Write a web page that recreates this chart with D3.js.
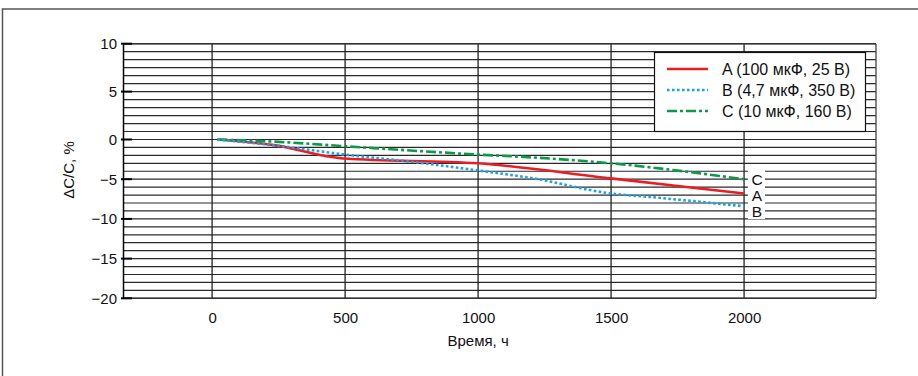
<!DOCTYPE html>
<html><head><meta charset="utf-8">
<script src="https://cdn.jsdelivr.net/npm/d3@7"></script>
<style>
html,body{margin:0;padding:0;background:#fff;}
svg{display:block;font-family:"Liberation Sans",Arial,sans-serif;}
</style></head>
<body>
<svg id="chart" width="918" height="376"></svg>
<script>
// ---- data ----
const seriesNames = ["A", "B", "C"];
const legendLabels = ["A (100 мкФ, 25 В)", "B (4,7 мкФ, 350 В)", "C (10 мкФ, 160 В)"];
const hoursA = [20, 250, 450, 500, 1000, 1500, 2000];
const valuesA = [0, -0.8, -2.2, -2.4, -3.0, -4.9, -6.8];
const hoursB = [20, 250, 500, 750, 1000, 1200, 1500, 1650, 1850, 2000];
const valuesB = [0, -0.8, -1.9, -2.8, -3.9, -4.85, -6.8, -7.25, -7.9, -8.4];
const hoursC = [20, 250, 500, 1000, 1200, 1500, 2000];
const valuesC = [0, -0.3, -0.85, -1.9, -2.25, -3.0, -5.0];
const xTicks = [0, 500, 1000, 1500, 2000];
const yTicks = [10, 5, 0, -5, -10, -15, -20];
const xTitle = "Время, ч";
const yTitle = "ΔC/C, %";

// ---- layout ----
const svg = d3.select("#chart");
const L = 123, R = 876, T = 43.7, B = 298.3;
const x = d3.scaleLinear().domain([-335, 2496]).range([L, R]);
const y = d3.scaleLinear().domain([-20, 0, 10]).range([B, 139.5, T]);

// outer frame
svg.append("rect").attr("x", 2.5).attr("y", 9).attr("width", 1000).attr("height", 1000)
  .attr("fill", "none").attr("stroke", "#555").attr("stroke-width", 1.5);

// horizontal grid (lower part 1 unit, upper part 10/12 unit)
const gridVals = d3.range(-20, 0, 1).concat(d3.range(0, 13).map(i => i * 10 / 12));
svg.append("g").selectAll("line").data(gridVals).join("line")
  .attr("x1", L).attr("x2", R).attr("y1", d => y(d)).attr("y2", d => y(d))
  .attr("stroke", "#2a2a2a").attr("stroke-width", 1.2);

// vertical grid
svg.append("g").selectAll("line").data(xTicks).join("line")
  .attr("x1", d => x(d)).attr("x2", d => x(d)).attr("y1", T).attr("y2", B)
  .attr("stroke", "#222").attr("stroke-width", 1.3);

// plot borders
svg.append("line").attr("x1", R).attr("x2", R).attr("y1", T).attr("y2", B).attr("stroke", "#444").attr("stroke-width", 1.3);
svg.append("line").attr("x1", L).attr("x2", R).attr("y1", T).attr("y2", T).attr("stroke", "#333").attr("stroke-width", 1.6);
svg.append("line").attr("x1", L).attr("x2", R).attr("y1", B).attr("y2", B).attr("stroke", "#333").attr("stroke-width", 1.6);

// y axis
const yAxis = d3.axisLeft(y).tickValues(yTicks).tickSize(0).tickPadding(6)
  .tickFormat(d => d < 0 ? "\u2212" + Math.abs(d) : String(d));
const gy = svg.append("g").attr("transform", `translate(${L},0)`).call(yAxis);
gy.select(".domain").attr("stroke", "#000").attr("stroke-width", 1.5);
gy.selectAll("text").attr("font-size", 15).attr("fill", "#111").attr("font-family", "Liberation Sans, Arial, sans-serif");
svg.append("g").selectAll("line").data(yTicks).join("line")
  .attr("x1", L - 2).attr("x2", L + 9).attr("y1", d => y(d)).attr("y2", d => y(d))
  .attr("stroke", "#000").attr("stroke-width", 2);

// x axis labels
const xAxis = d3.axisBottom(x).tickValues(xTicks).tickSize(0).tickPadding(14).tickFormat(d => String(d));
const gx = svg.append("g").attr("transform", `translate(0,${B})`).call(xAxis);
gx.select(".domain").remove();
gx.selectAll("text").attr("font-size", 15).attr("fill", "#111").attr("font-family", "Liberation Sans, Arial, sans-serif");

// titles
svg.append("text").attr("x", x(1000)).attr("y", 346).attr("text-anchor", "middle")
  .attr("font-size", 15).attr("fill", "#111").text(xTitle);
svg.append("text").attr("transform", "translate(74,170) rotate(-90)").attr("text-anchor", "middle")
  .attr("font-size", 15).attr("fill", "#111").text(yTitle);

// series
const styles = {
  A: {color: "#ec1c24", dash: null},
  B: {color: "#1aa3e4", dash: "2.6,2.4"},
  C: {color: "#0d9a48", dash: "10,3,3,3"}
};
const seriesData = {
  A: hoursA.map((h, i) => [h, valuesA[i]]),
  B: hoursB.map((h, i) => [h, valuesB[i]]),
  C: hoursC.map((h, i) => [h, valuesC[i]])
};
const line = d3.line().x(d => x(d[0])).y(d => y(d[1])).curve(d3.curveMonotoneX);
["A", "C", "B"].forEach(k => {
  svg.append("path").datum(seriesData[k]).attr("d", line)
    .attr("fill", "none").attr("stroke", styles[k].color).attr("stroke-width", 2.6)
    .attr("stroke-dasharray", styles[k].dash);
});

// end labels
svg.append("rect").attr("x", 748).attr("y", 170).attr("width", 17).attr("height", 49).attr("fill", "#fff");
const endOrder = ["C", "A", "B"];
svg.append("g").selectAll("text").data(endOrder).join("text")
  .attr("x", 757).attr("y", (d, i) => 179 + i * 16).attr("dy", "0.36em")
  .attr("text-anchor", "middle").attr("font-size", 15.5).attr("fill", "#111").text(d => d);

// legend
const lg = svg.append("g");
lg.append("rect").attr("x", 654.5).attr("y", 52.5).attr("width", 211).attr("height", 79)
  .attr("fill", "#fff").attr("stroke", "#111").attr("stroke-width", 1.2);
seriesNames.forEach((k, i) => {
  const cy = 69 + i * 21;
  lg.append("line").attr("x1", 667).attr("x2", 708).attr("y1", cy).attr("y2", cy)
    .attr("stroke", styles[k].color).attr("stroke-width", 2.6).attr("stroke-dasharray", styles[k].dash);
  lg.append("text").attr("x", 722).attr("y", cy).attr("dy", "0.36em")
    .attr("font-size", 16).attr("fill", "#111").text(legendLabels[i]);
});
</script>
</body></html>
